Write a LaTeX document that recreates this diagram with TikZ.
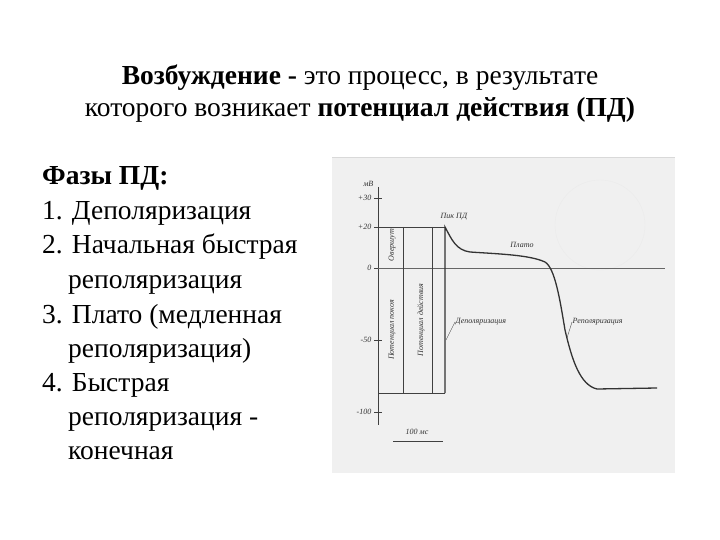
\documentclass[tikz,border=0pt]{standalone}
\usepackage{fontspec}
\setmainfont{Liberation Serif}
\begin{document}
\begin{tikzpicture}[x=1pt,y=-1pt,
  txt/.style={font=\fontsize{27.5}{32}\selectfont,inner sep=0,anchor=base},
  lst/.style={font=\fontsize{27.5}{32}\selectfont,inner sep=0,anchor=base west},
  sm/.style={font=\fontsize{8}{9}\selectfont\itshape,inner sep=0.5,text=black!80},
  ax/.style={draw=black!75,line width=0.8},
  curve/.style={draw=black!80,line width=1.3}]
\useasboundingbox (0,0) rectangle (720,540);
\fill[white] (0,0) rectangle (720,540);
\node[txt] (t1) at (360,85) {\textbf{Возбуждение -} это процесс, в результате};
\node[txt] (t2) at (360,117) {которого возникает \textbf{потенциал действия (ПД)}};
\node[lst] (l0) at (42,185) {\textbf{Фазы ПД:}};
\node[lst] (l1) at (42,220) {1. Деполяризация};
\node[lst] (l2) at (42,254) {2. Начальная быстрая};
\node[lst] (l3) at (68,288) {реполяризация};
\node[lst] (l4) at (42,323) {3. Плато (медленная};
\node[lst] (l5) at (68,357) {реполяризация)};
\node[lst] (l6) at (42,391) {4. Быстрая};
\node[lst] (l7) at (68,425) {реполяризация -};
\node[lst] (l8) at (68,459) {конечная};
% graph background
\fill[black!6] (332,157) rectangle (675,473);
\draw[black!15] (332,157) -- (675,157);
\draw[black!8] (600,225) circle (45);
% axis
\coordinate (ytop) at (378,187);
\coordinate (ybot) at (378,425);
\draw[ax] (ytop) -- (ybot);
\foreach \yy/\lab in {198/+30,227/+20,268/0,340/-50,412/-100}{
  \draw[ax] (374,\yy) -- (382,\yy);
  \node[sm,anchor=east] at (372,\yy) {\lab};
}
\node[sm,anchor=east] at (374,184) {мВ};
\coordinate (z0) at (378,268);
\coordinate (z1) at (665,268);
\draw[ax,black!60] (z0) -- (z1);
% rest and peak lines
\draw[ax] (378,227) -- (445,227);
\draw[ax] (378,393) -- (445,393);
\draw[ax] (403,227) -- (403,393);
\draw[ax] (432,227) -- (432,393);
\node[sm,rotate=90] at (392,330) {Потенциал покоя};
\node[sm,rotate=90] at (421,320) {Потенциал действия};
\node[sm,rotate=90] at (392,245) {Овершут};
% action potential curve
\draw[curve] (445,393) -- (445,227) .. controls (452,240) and (456,250) .. (470,252)
  .. controls (500,254) and (530,255) .. (545,262)
  .. controls (555,268) and (560,300) .. (565,330)
  .. controls (572,360) and (580,385) .. (597,389) -- (657,388);
% labels
\node[sm,anchor=west] (pk) at (440,217) {Пик ПД};
\node[sm] (pl) at (522,245) {Плато};
\node[sm,anchor=west] (dp) at (455,322) {Деполяризация};
\node[sm,anchor=west] (rp) at (572,322) {Реполяризация};
\draw[black!70,line width=0.4] (dp.west) -- (446,340);
\draw[black!70,line width=0.4] (rp.west) -- (567,338);
% time scale
\coordinate (s0) at (393,441);
\coordinate (s1) at (443,441);
\draw[ax,line width=0.6] (s0) -- (s1);
\node[sm] (sc) at (417,432) {100 мс};
\end{tikzpicture}
\end{document}
